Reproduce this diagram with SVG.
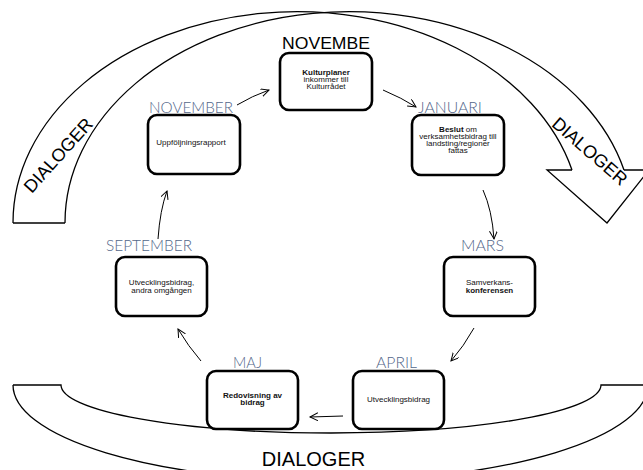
<svg xmlns="http://www.w3.org/2000/svg" width="643" height="470" viewBox="0 0 643 470">
<defs>
<marker id="ah" markerWidth="10" markerHeight="10" refX="8" refY="4" orient="auto" markerUnits="userSpaceOnUse">
<path d="M0,0 L8,4 L0,8" fill="none" stroke="#000" stroke-width="1"/>
</marker>
</defs>
<style>
.band{fill:none;stroke:#000;stroke-width:1.3}
.box{fill:#fff;stroke:#000;stroke-width:2.6}
.t{font-family:"Liberation Sans",Arial,sans-serif;font-size:6.4px;text-anchor:middle;fill:#111}
.b{font-weight:bold}
.m{font-family:Lato,"Open Sans","Liberation Sans",sans-serif;font-weight:300;font-size:15.5px;fill:#53678a}
.d{font-family:"Liberation Sans",Arial,sans-serif;fill:#000}
.c{fill:none;stroke:#000;stroke-width:1}
</style>
<rect width="643" height="470" fill="#fff"/>
<g id="dialog-top">
<path class="band" d="M13,223 A284,211 0 0,1 572,170"/>
<path class="band" d="M65,223 A284,211 0 0,1 624,170"/>
<path class="band" d="M13,223 L65,223"/>
<path class="band" d="M572,170 L547,170 L607,223 L649,170 L624,170"/>
<text class="d" font-size="18" text-anchor="middle" transform="translate(58 155) rotate(-48)" x="0" y="6.5">DIALOGER</text>
<text class="d" font-size="18" text-anchor="middle" transform="translate(590 151) rotate(41)" x="0" y="6.5">DIALOGER</text>
</g>
<g id="dialog-bottom">
<path class="band" d="M13,385 L61,385 A270,48 0 0,0 601,385 L648,385"/>
<path class="band" d="M13,385 A317.5,96 0 0,0 648,385"/>
<text class="d" font-size="20" text-anchor="middle" x="313.5" y="466">DIALOGER</text>
</g>
<g id="connectors">
<path class="c" d="M237,105 Q252,96 269,90" marker-end="url(#ah)"/>
<path class="c" d="M383,90 Q402,98 416,107" marker-end="url(#ah)"/>
<path class="c" d="M483,190 Q492,210 494,239" marker-end="url(#ah)"/>
<path class="c" d="M474,328 Q464,346 451,361" marker-end="url(#ah)"/>
<path class="c" d="M343,416 L310,417" marker-end="url(#ah)"/>
<path class="c" d="M201,361 Q188,346 178,329" marker-end="url(#ah)"/>
<path class="c" d="M158,239 Q160,210 167,191" marker-end="url(#ah)"/>
</g>
<g id="n-kulturplaner">
<text class="d" font-size="16" x="282" y="48.5" textLength="88" lengthAdjust="spacingAndGlyphs">NOVEMBE</text>
<rect class="box" x="280" y="53" width="92" height="57" rx="9"/>
<text class="t b" transform="translate(326 0) scale(1.25 1)" x="0" y="75.5">Kulturplaner</text>
<text class="t" transform="translate(326 0) scale(1.25 1)" x="0" y="82.5">inkommer till</text>
<text class="t" transform="translate(326 0) scale(1.25 1)" x="0" y="89.5">Kulturrådet</text>
</g>
<g id="n-beslut">
<text class="m" x="418" y="113" textLength="64" lengthAdjust="spacingAndGlyphs">JANUARI</text>
<rect class="box" x="412" y="115" width="92" height="60" rx="9"/>
<text class="t" transform="translate(458 0) scale(1.25 1)" x="0" y="132">
<tspan class="b">Beslut</tspan> om</text>
<text class="t" transform="translate(458 0) scale(1.25 1)" x="0" y="139">verksamhetsbidrag till</text>
<text class="t" transform="translate(458 0) scale(1.25 1)" x="0" y="146">landsting/regioner</text>
<text class="t" transform="translate(458 0) scale(1.25 1)" x="0" y="153">fattas</text>
</g>
<g id="n-uppfoljning">
<text class="m" x="149" y="112.7" textLength="84" lengthAdjust="spacingAndGlyphs">NOVEMBER</text>
<rect class="box" x="148" y="115" width="92" height="59" rx="9"/>
<text class="t" transform="translate(191 0) scale(1.25 1)" x="0" y="145">Uppföljningsrapport</text>
</g>
<g id="n-samverkan">
<text class="m" x="461" y="251" textLength="43" lengthAdjust="spacingAndGlyphs">MARS</text>
<rect class="box" x="444" y="257" width="91" height="59" rx="9"/>
<text class="t" transform="translate(489.5 0) scale(1.25 1)" x="0" y="285">Samverkans-</text>
<text class="t b" transform="translate(489.5 0) scale(1.25 1)" x="0" y="293">konferensen</text>
</g>
<g id="n-utveckling-andra">
<text class="m" x="106" y="251" textLength="86" lengthAdjust="spacingAndGlyphs">SEPTEMBER</text>
<rect class="box" x="116" y="257" width="91" height="59" rx="9"/>
<text class="t" transform="translate(161.5 0) scale(1.25 1)" x="0" y="285">Utvecklingsbidrag,</text>
<text class="t" transform="translate(161.5 0) scale(1.25 1)" x="0" y="293">andra omgången</text>
</g>
<g id="n-redovisning">
<text class="m" x="233" y="368" textLength="29" lengthAdjust="spacingAndGlyphs">MAJ</text>
<rect class="box" x="207" y="371" width="91" height="58" rx="9"/>
<text class="t b" transform="translate(252.5 0) scale(1.25 1)" x="0" y="398.5">Redovisning av</text>
<text class="t b" transform="translate(252.5 0) scale(1.25 1)" x="0" y="405.5">bidrag</text>
</g>
<g id="n-utveckling">
<text class="m" x="376" y="368" textLength="41" lengthAdjust="spacingAndGlyphs">APRIL</text>
<rect class="box" x="353" y="371" width="91" height="58" rx="9"/>
<text class="t" transform="translate(398.5 0) scale(1.25 1)" x="0" y="402">Utvecklingsbidrag</text>
</g>
</svg>
